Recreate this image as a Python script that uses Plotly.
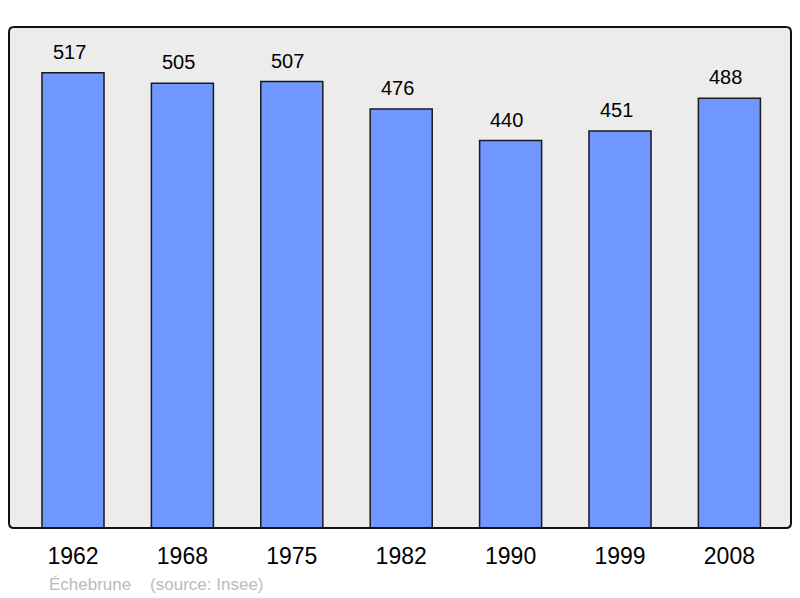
import plotly.graph_objects as go

years = ["1962", "1968", "1975", "1982", "1990", "1999", "2008"]
population = [517, 505, 507, 476, 440, 451, 488]
footer = "Échebrune\u00a0\u00a0\u00a0\u00a0(source: Insee)"

fig = go.Figure()
fig.add_trace(go.Bar(
    x=years, y=population, width=0.567,
    marker=dict(color="#7096ff", line=dict(color="#1a1a1a", width=1.5)),
    hoverinfo="x+y",
))

# value labels above the bars (category index as x, numeric-looking names confuse annotations)
for i, v in enumerate(population):
    fig.add_annotation(x=i, y=v, text=str(v), showarrow=False,
                       yanchor="bottom", yshift=8, xshift=-4,
                       font=dict(size=20, color="#000000"))

fig.add_annotation(x=0.049, y=-0.112, xref="paper", yref="paper",
                   text=footer, showarrow=False, xanchor="left", yanchor="middle",
                   font=dict(size=17, color="#bbbbbb"))

# frame around the plot area, slightly rounded corners
rx, ry = 5 / 782, 5 / 501
frame = (f"M {rx},0 L {1-rx},0 Q 1,0 1,{ry} L 1,{1-ry} Q 1,1 {1-rx},1 "
         f"L {rx},1 Q 0,1 0,{1-ry} L 0,{ry} Q 0,0 {rx},0 Z")
fig.add_shape(type="path", xref="paper", yref="paper", path=frame,
              line=dict(color="#111111", width=2), layer="above")

# the page body has an 8px margin, so the figure is offset by 8px
fig.update_layout(
    width=784, height=590,
    margin=dict(l=1, r=1, t=19, b=70),
    paper_bgcolor="#ffffff", plot_bgcolor="#ececec",
    font=dict(family="Liberation Sans, Arial, sans-serif", color="#000000"),
    showlegend=False,
    xaxis=dict(type="category", range=[-0.585, 6.563], showgrid=False,
               zeroline=False, showline=False, ticks="",
               ticklabelstandoff=12, tickfont=dict(size=23)),
    yaxis=dict(range=[0, 569], showgrid=False, zeroline=False,
               showticklabels=False, ticks=""),
)

fig.write_html("out.html")
